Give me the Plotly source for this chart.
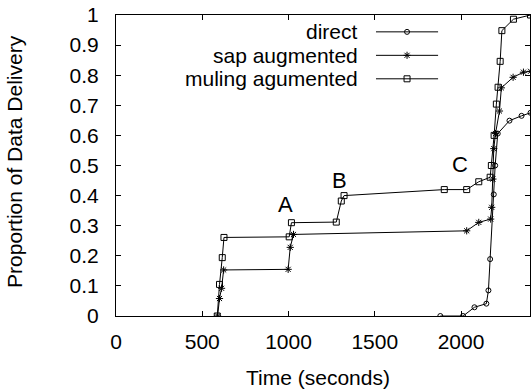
import plotly.graph_objects as go

# ---- data ----
direct_x = [1880, 2012, 2078, 2147, 2159, 2169, 2190, 2198, 2213, 2281, 2351, 2403]
direct_y = [0.0, 0.0, 0.029, 0.041, 0.085, 0.189, 0.404, 0.5, 0.606, 0.649, 0.665, 0.675]

sap_x = [589, 600, 612, 624, 998, 1010, 1029, 2033, 2103, 2172, 2178, 2185, 2190, 2200, 2223, 2234, 2302, 2362, 2403]
sap_y = [0.0, 0.058, 0.092, 0.153, 0.155, 0.228, 0.271, 0.283, 0.311, 0.322, 0.361, 0.455, 0.556, 0.606, 0.681, 0.758, 0.793, 0.81, 0.813]

mul_x = [587, 600, 616, 626, 1004, 1017, 1277, 1306, 1322, 1903, 2033, 2103, 2169, 2176, 2192, 2205, 2215, 2227, 2237, 2304, 2403]
mul_y = [0.0, 0.105, 0.194, 0.261, 0.263, 0.31, 0.312, 0.382, 0.40, 0.42, 0.42, 0.446, 0.461, 0.5, 0.6, 0.704, 0.76, 0.846, 0.948, 0.986, 1.0]

series_names = ["direct", "sap augmented", "muling agumented"]
series_symbols = ["circle-open", "asterisk-open", "square-open"]
series_sizes = [5, 6, 6]

labels = ["A", "B", "C"]
label_x = [983, 1298, 1996]
label_y = [0.369, 0.449, 0.502]

x_ticks = [0, 500, 1000, 1500, 2000]
y_ticks = [0, 0.1, 0.2, 0.3, 0.4, 0.5, 0.6, 0.7, 0.8, 0.9, 1]

x_title = "Time (seconds)"
y_title = "Proportion of Data Delivery"

FONT = "Liberation Sans, Arial, sans-serif"
FS = 21

fig = go.Figure()
for xs, ys, name, sym, sz in zip([direct_x, sap_x, mul_x], [direct_y, sap_y, mul_y],
                                 series_names, series_symbols, series_sizes):
    fig.add_trace(go.Scatter(
        x=xs, y=ys, mode="lines+markers", name=name, showlegend=False,
        line=dict(color="black", width=1),
        marker=dict(symbol=sym, size=sz, color="black", line=dict(color="black", width=1)),
    ))

# ---- custom legend (text left, sample right) ----
leg_rows = [0.944, 0.866, 0.788]
leg_text_x = 0.589
leg_line = (0.628, 0.778)
for name, sym, sz, yr in zip(series_names, series_symbols, series_sizes, leg_rows):
    fig.add_annotation(x=leg_text_x, y=yr, xref="paper", yref="paper", text=name,
                       showarrow=False, xanchor="right", yanchor="middle",
                       font=dict(size=FS, color="black", family=FONT))
    fig.add_shape(type="line", xref="paper", yref="paper", x0=leg_line[0], x1=leg_line[1],
                  y0=yr, y1=yr, line=dict(color="black", width=1))
    fig.add_trace(go.Scatter(
        x=[(leg_line[0] + leg_line[1]) / 2], y=[yr], xaxis="x2", yaxis="y2",
        mode="markers", showlegend=False, hoverinfo="skip",
        marker=dict(symbol=sym, size=sz, color="black", line=dict(color="black", width=1)),
    ))

for t, lx, ly in zip(labels, label_x, label_y):
    fig.add_annotation(x=lx, y=ly, text=t, showarrow=False,
                       font=dict(size=FS + 1, color="black", family=FONT))

# axis titles as annotations for precise placement
fig.add_annotation(x=0.487, y=-0.203, xref="paper", yref="paper", text=x_title,
                   showarrow=False, xanchor="center", yanchor="middle",
                   font=dict(size=FS, color="black", family=FONT))
fig.add_annotation(x=-0.244, y=0.515, xref="paper", yref="paper", text=y_title,
                   showarrow=False, xanchor="center", yanchor="middle", textangle=-90,
                   font=dict(size=FS, color="black", family=FONT))

axis_common = dict(showline=True, linecolor="black", linewidth=1, mirror="ticks",
                   ticks="inside", ticklen=5, tickcolor="black", tickwidth=1,
                   showgrid=False, zeroline=False,
                   tickfont=dict(size=FS, color="black", family=FONT))

fig.update_layout(
    width=531, height=392,
    margin=dict(l=116, r=1, t=15, b=76),
    paper_bgcolor="white", plot_bgcolor="white",
    font=dict(family=FONT, color="black"),
    xaxis=dict(range=[0, 2400], tickvals=x_ticks, ticktext=[str(v) for v in x_ticks],
               ticklabelstandoff=7, **axis_common),
    yaxis=dict(range=[0, 1], tickvals=y_ticks, ticktext=[f"{v:g}" for v in y_ticks],
               ticklabelstandoff=12, **axis_common),
    xaxis2=dict(range=[0, 1], overlaying="x", visible=False),
    yaxis2=dict(range=[0, 1], overlaying="y", visible=False),
)

fig.write_html("out.html")
